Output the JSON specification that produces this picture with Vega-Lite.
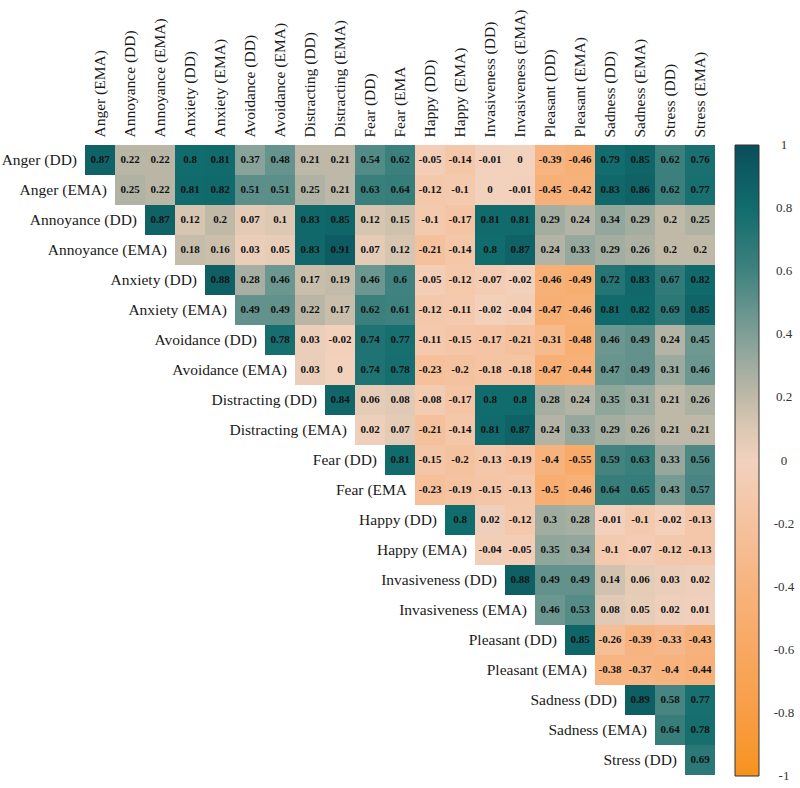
{
  "$schema": "https://vega.github.io/schema/vega-lite/v6.json",
  "width": 630,
  "height": 630,
  "padding": {"left": 1, "top": 9, "right": 0, "bottom": 0},
  "background": "white",
  "config": {"view": {"stroke": null}, "font": "Liberation Serif"},
  "data": {"values": [
    {"r":"Anger (DD)","c":"Anger (EMA)","v":0.87},{"r":"Anger (DD)","c":"Annoyance (DD)","v":0.22},{"r":"Anger (DD)","c":"Annoyance (EMA)","v":0.22},{"r":"Anger (DD)","c":"Anxiety (DD)","v":0.8},{"r":"Anger (DD)","c":"Anxiety (EMA)","v":0.81},{"r":"Anger (DD)","c":"Avoidance (DD)","v":0.37},{"r":"Anger (DD)","c":"Avoidance (EMA)","v":0.48},{"r":"Anger (DD)","c":"Distracting (DD)","v":0.21},{"r":"Anger (DD)","c":"Distracting (EMA)","v":0.21},{"r":"Anger (DD)","c":"Fear (DD)","v":0.54},{"r":"Anger (DD)","c":"Fear (EMA","v":0.62},{"r":"Anger (DD)","c":"Happy (DD)","v":-0.05},{"r":"Anger (DD)","c":"Happy (EMA)","v":-0.14},{"r":"Anger (DD)","c":"Invasiveness (DD)","v":-0.01},{"r":"Anger (DD)","c":"Invasiveness (EMA)","v":0},{"r":"Anger (DD)","c":"Pleasant (DD)","v":-0.39},{"r":"Anger (DD)","c":"Pleasant (EMA)","v":-0.46},{"r":"Anger (DD)","c":"Sadness (DD)","v":0.79},{"r":"Anger (DD)","c":"Sadness (EMA)","v":0.85},{"r":"Anger (DD)","c":"Stress (DD)","v":0.62},{"r":"Anger (DD)","c":"Stress (EMA)","v":0.76},
    {"r":"Anger (EMA)","c":"Annoyance (DD)","v":0.25},{"r":"Anger (EMA)","c":"Annoyance (EMA)","v":0.22},{"r":"Anger (EMA)","c":"Anxiety (DD)","v":0.81},{"r":"Anger (EMA)","c":"Anxiety (EMA)","v":0.82},{"r":"Anger (EMA)","c":"Avoidance (DD)","v":0.51},{"r":"Anger (EMA)","c":"Avoidance (EMA)","v":0.51},{"r":"Anger (EMA)","c":"Distracting (DD)","v":0.25},{"r":"Anger (EMA)","c":"Distracting (EMA)","v":0.21},{"r":"Anger (EMA)","c":"Fear (DD)","v":0.63},{"r":"Anger (EMA)","c":"Fear (EMA","v":0.64},{"r":"Anger (EMA)","c":"Happy (DD)","v":-0.12},{"r":"Anger (EMA)","c":"Happy (EMA)","v":-0.1},{"r":"Anger (EMA)","c":"Invasiveness (DD)","v":0},{"r":"Anger (EMA)","c":"Invasiveness (EMA)","v":-0.01},{"r":"Anger (EMA)","c":"Pleasant (DD)","v":-0.45},{"r":"Anger (EMA)","c":"Pleasant (EMA)","v":-0.42},{"r":"Anger (EMA)","c":"Sadness (DD)","v":0.83},{"r":"Anger (EMA)","c":"Sadness (EMA)","v":0.86},{"r":"Anger (EMA)","c":"Stress (DD)","v":0.62},{"r":"Anger (EMA)","c":"Stress (EMA)","v":0.77},
    {"r":"Annoyance (DD)","c":"Annoyance (EMA)","v":0.87},{"r":"Annoyance (DD)","c":"Anxiety (DD)","v":0.12},{"r":"Annoyance (DD)","c":"Anxiety (EMA)","v":0.2},{"r":"Annoyance (DD)","c":"Avoidance (DD)","v":0.07},{"r":"Annoyance (DD)","c":"Avoidance (EMA)","v":0.1},{"r":"Annoyance (DD)","c":"Distracting (DD)","v":0.83},{"r":"Annoyance (DD)","c":"Distracting (EMA)","v":0.85},{"r":"Annoyance (DD)","c":"Fear (DD)","v":0.12},{"r":"Annoyance (DD)","c":"Fear (EMA","v":0.15},{"r":"Annoyance (DD)","c":"Happy (DD)","v":-0.1},{"r":"Annoyance (DD)","c":"Happy (EMA)","v":-0.17},{"r":"Annoyance (DD)","c":"Invasiveness (DD)","v":0.81},{"r":"Annoyance (DD)","c":"Invasiveness (EMA)","v":0.81},{"r":"Annoyance (DD)","c":"Pleasant (DD)","v":0.29},{"r":"Annoyance (DD)","c":"Pleasant (EMA)","v":0.24},{"r":"Annoyance (DD)","c":"Sadness (DD)","v":0.34},{"r":"Annoyance (DD)","c":"Sadness (EMA)","v":0.29},{"r":"Annoyance (DD)","c":"Stress (DD)","v":0.2},{"r":"Annoyance (DD)","c":"Stress (EMA)","v":0.25},
    {"r":"Annoyance (EMA)","c":"Anxiety (DD)","v":0.18},{"r":"Annoyance (EMA)","c":"Anxiety (EMA)","v":0.16},{"r":"Annoyance (EMA)","c":"Avoidance (DD)","v":0.03},{"r":"Annoyance (EMA)","c":"Avoidance (EMA)","v":0.05},{"r":"Annoyance (EMA)","c":"Distracting (DD)","v":0.83},{"r":"Annoyance (EMA)","c":"Distracting (EMA)","v":0.91},{"r":"Annoyance (EMA)","c":"Fear (DD)","v":0.07},{"r":"Annoyance (EMA)","c":"Fear (EMA","v":0.12},{"r":"Annoyance (EMA)","c":"Happy (DD)","v":-0.21},{"r":"Annoyance (EMA)","c":"Happy (EMA)","v":-0.14},{"r":"Annoyance (EMA)","c":"Invasiveness (DD)","v":0.8},{"r":"Annoyance (EMA)","c":"Invasiveness (EMA)","v":0.87},{"r":"Annoyance (EMA)","c":"Pleasant (DD)","v":0.24},{"r":"Annoyance (EMA)","c":"Pleasant (EMA)","v":0.33},{"r":"Annoyance (EMA)","c":"Sadness (DD)","v":0.29},{"r":"Annoyance (EMA)","c":"Sadness (EMA)","v":0.26},{"r":"Annoyance (EMA)","c":"Stress (DD)","v":0.2},{"r":"Annoyance (EMA)","c":"Stress (EMA)","v":0.2},
    {"r":"Anxiety (DD)","c":"Anxiety (EMA)","v":0.88},{"r":"Anxiety (DD)","c":"Avoidance (DD)","v":0.28},{"r":"Anxiety (DD)","c":"Avoidance (EMA)","v":0.46},{"r":"Anxiety (DD)","c":"Distracting (DD)","v":0.17},{"r":"Anxiety (DD)","c":"Distracting (EMA)","v":0.19},{"r":"Anxiety (DD)","c":"Fear (DD)","v":0.46},{"r":"Anxiety (DD)","c":"Fear (EMA","v":0.6},{"r":"Anxiety (DD)","c":"Happy (DD)","v":-0.05},{"r":"Anxiety (DD)","c":"Happy (EMA)","v":-0.12},{"r":"Anxiety (DD)","c":"Invasiveness (DD)","v":-0.07},{"r":"Anxiety (DD)","c":"Invasiveness (EMA)","v":-0.02},{"r":"Anxiety (DD)","c":"Pleasant (DD)","v":-0.46},{"r":"Anxiety (DD)","c":"Pleasant (EMA)","v":-0.49},{"r":"Anxiety (DD)","c":"Sadness (DD)","v":0.72},{"r":"Anxiety (DD)","c":"Sadness (EMA)","v":0.83},{"r":"Anxiety (DD)","c":"Stress (DD)","v":0.67},{"r":"Anxiety (DD)","c":"Stress (EMA)","v":0.82},
    {"r":"Anxiety (EMA)","c":"Avoidance (DD)","v":0.49},{"r":"Anxiety (EMA)","c":"Avoidance (EMA)","v":0.49},{"r":"Anxiety (EMA)","c":"Distracting (DD)","v":0.22},{"r":"Anxiety (EMA)","c":"Distracting (EMA)","v":0.17},{"r":"Anxiety (EMA)","c":"Fear (DD)","v":0.62},{"r":"Anxiety (EMA)","c":"Fear (EMA","v":0.61},{"r":"Anxiety (EMA)","c":"Happy (DD)","v":-0.12},{"r":"Anxiety (EMA)","c":"Happy (EMA)","v":-0.11},{"r":"Anxiety (EMA)","c":"Invasiveness (DD)","v":-0.02},{"r":"Anxiety (EMA)","c":"Invasiveness (EMA)","v":-0.04},{"r":"Anxiety (EMA)","c":"Pleasant (DD)","v":-0.47},{"r":"Anxiety (EMA)","c":"Pleasant (EMA)","v":-0.46},{"r":"Anxiety (EMA)","c":"Sadness (DD)","v":0.81},{"r":"Anxiety (EMA)","c":"Sadness (EMA)","v":0.82},{"r":"Anxiety (EMA)","c":"Stress (DD)","v":0.69},{"r":"Anxiety (EMA)","c":"Stress (EMA)","v":0.85},
    {"r":"Avoidance (DD)","c":"Avoidance (EMA)","v":0.78},{"r":"Avoidance (DD)","c":"Distracting (DD)","v":0.03},{"r":"Avoidance (DD)","c":"Distracting (EMA)","v":-0.02},{"r":"Avoidance (DD)","c":"Fear (DD)","v":0.74},{"r":"Avoidance (DD)","c":"Fear (EMA","v":0.77},{"r":"Avoidance (DD)","c":"Happy (DD)","v":-0.11},{"r":"Avoidance (DD)","c":"Happy (EMA)","v":-0.15},{"r":"Avoidance (DD)","c":"Invasiveness (DD)","v":-0.17},{"r":"Avoidance (DD)","c":"Invasiveness (EMA)","v":-0.21},{"r":"Avoidance (DD)","c":"Pleasant (DD)","v":-0.31},{"r":"Avoidance (DD)","c":"Pleasant (EMA)","v":-0.48},{"r":"Avoidance (DD)","c":"Sadness (DD)","v":0.46},{"r":"Avoidance (DD)","c":"Sadness (EMA)","v":0.49},{"r":"Avoidance (DD)","c":"Stress (DD)","v":0.24},{"r":"Avoidance (DD)","c":"Stress (EMA)","v":0.45},
    {"r":"Avoidance (EMA)","c":"Distracting (DD)","v":0.03},{"r":"Avoidance (EMA)","c":"Distracting (EMA)","v":0},{"r":"Avoidance (EMA)","c":"Fear (DD)","v":0.74},{"r":"Avoidance (EMA)","c":"Fear (EMA","v":0.78},{"r":"Avoidance (EMA)","c":"Happy (DD)","v":-0.23},{"r":"Avoidance (EMA)","c":"Happy (EMA)","v":-0.2},{"r":"Avoidance (EMA)","c":"Invasiveness (DD)","v":-0.18},{"r":"Avoidance (EMA)","c":"Invasiveness (EMA)","v":-0.18},{"r":"Avoidance (EMA)","c":"Pleasant (DD)","v":-0.47},{"r":"Avoidance (EMA)","c":"Pleasant (EMA)","v":-0.44},{"r":"Avoidance (EMA)","c":"Sadness (DD)","v":0.47},{"r":"Avoidance (EMA)","c":"Sadness (EMA)","v":0.49},{"r":"Avoidance (EMA)","c":"Stress (DD)","v":0.31},{"r":"Avoidance (EMA)","c":"Stress (EMA)","v":0.46},
    {"r":"Distracting (DD)","c":"Distracting (EMA)","v":0.84},{"r":"Distracting (DD)","c":"Fear (DD)","v":0.06},{"r":"Distracting (DD)","c":"Fear (EMA","v":0.08},{"r":"Distracting (DD)","c":"Happy (DD)","v":-0.08},{"r":"Distracting (DD)","c":"Happy (EMA)","v":-0.17},{"r":"Distracting (DD)","c":"Invasiveness (DD)","v":0.8},{"r":"Distracting (DD)","c":"Invasiveness (EMA)","v":0.8},{"r":"Distracting (DD)","c":"Pleasant (DD)","v":0.28},{"r":"Distracting (DD)","c":"Pleasant (EMA)","v":0.24},{"r":"Distracting (DD)","c":"Sadness (DD)","v":0.35},{"r":"Distracting (DD)","c":"Sadness (EMA)","v":0.31},{"r":"Distracting (DD)","c":"Stress (DD)","v":0.21},{"r":"Distracting (DD)","c":"Stress (EMA)","v":0.26},
    {"r":"Distracting (EMA)","c":"Fear (DD)","v":0.02},{"r":"Distracting (EMA)","c":"Fear (EMA","v":0.07},{"r":"Distracting (EMA)","c":"Happy (DD)","v":-0.21},{"r":"Distracting (EMA)","c":"Happy (EMA)","v":-0.14},{"r":"Distracting (EMA)","c":"Invasiveness (DD)","v":0.81},{"r":"Distracting (EMA)","c":"Invasiveness (EMA)","v":0.87},{"r":"Distracting (EMA)","c":"Pleasant (DD)","v":0.24},{"r":"Distracting (EMA)","c":"Pleasant (EMA)","v":0.33},{"r":"Distracting (EMA)","c":"Sadness (DD)","v":0.29},{"r":"Distracting (EMA)","c":"Sadness (EMA)","v":0.26},{"r":"Distracting (EMA)","c":"Stress (DD)","v":0.21},{"r":"Distracting (EMA)","c":"Stress (EMA)","v":0.21},
    {"r":"Fear (DD)","c":"Fear (EMA","v":0.81},{"r":"Fear (DD)","c":"Happy (DD)","v":-0.15},{"r":"Fear (DD)","c":"Happy (EMA)","v":-0.2},{"r":"Fear (DD)","c":"Invasiveness (DD)","v":-0.13},{"r":"Fear (DD)","c":"Invasiveness (EMA)","v":-0.19},{"r":"Fear (DD)","c":"Pleasant (DD)","v":-0.4},{"r":"Fear (DD)","c":"Pleasant (EMA)","v":-0.55},{"r":"Fear (DD)","c":"Sadness (DD)","v":0.59},{"r":"Fear (DD)","c":"Sadness (EMA)","v":0.63},{"r":"Fear (DD)","c":"Stress (DD)","v":0.33},{"r":"Fear (DD)","c":"Stress (EMA)","v":0.56},
    {"r":"Fear (EMA","c":"Happy (DD)","v":-0.23},{"r":"Fear (EMA","c":"Happy (EMA)","v":-0.19},{"r":"Fear (EMA","c":"Invasiveness (DD)","v":-0.15},{"r":"Fear (EMA","c":"Invasiveness (EMA)","v":-0.13},{"r":"Fear (EMA","c":"Pleasant (DD)","v":-0.5},{"r":"Fear (EMA","c":"Pleasant (EMA)","v":-0.46},{"r":"Fear (EMA","c":"Sadness (DD)","v":0.64},{"r":"Fear (EMA","c":"Sadness (EMA)","v":0.65},{"r":"Fear (EMA","c":"Stress (DD)","v":0.43},{"r":"Fear (EMA","c":"Stress (EMA)","v":0.57},
    {"r":"Happy (DD)","c":"Happy (EMA)","v":0.8},{"r":"Happy (DD)","c":"Invasiveness (DD)","v":0.02},{"r":"Happy (DD)","c":"Invasiveness (EMA)","v":-0.12},{"r":"Happy (DD)","c":"Pleasant (DD)","v":0.3},{"r":"Happy (DD)","c":"Pleasant (EMA)","v":0.28},{"r":"Happy (DD)","c":"Sadness (DD)","v":-0.01},{"r":"Happy (DD)","c":"Sadness (EMA)","v":-0.1},{"r":"Happy (DD)","c":"Stress (DD)","v":-0.02},{"r":"Happy (DD)","c":"Stress (EMA)","v":-0.13},
    {"r":"Happy (EMA)","c":"Invasiveness (DD)","v":-0.04},{"r":"Happy (EMA)","c":"Invasiveness (EMA)","v":-0.05},{"r":"Happy (EMA)","c":"Pleasant (DD)","v":0.35},{"r":"Happy (EMA)","c":"Pleasant (EMA)","v":0.34},{"r":"Happy (EMA)","c":"Sadness (DD)","v":-0.1},{"r":"Happy (EMA)","c":"Sadness (EMA)","v":-0.07},{"r":"Happy (EMA)","c":"Stress (DD)","v":-0.12},{"r":"Happy (EMA)","c":"Stress (EMA)","v":-0.13},
    {"r":"Invasiveness (DD)","c":"Invasiveness (EMA)","v":0.88},{"r":"Invasiveness (DD)","c":"Pleasant (DD)","v":0.49},{"r":"Invasiveness (DD)","c":"Pleasant (EMA)","v":0.49},{"r":"Invasiveness (DD)","c":"Sadness (DD)","v":0.14},{"r":"Invasiveness (DD)","c":"Sadness (EMA)","v":0.06},{"r":"Invasiveness (DD)","c":"Stress (DD)","v":0.03},{"r":"Invasiveness (DD)","c":"Stress (EMA)","v":0.02},
    {"r":"Invasiveness (EMA)","c":"Pleasant (DD)","v":0.46},{"r":"Invasiveness (EMA)","c":"Pleasant (EMA)","v":0.53},{"r":"Invasiveness (EMA)","c":"Sadness (DD)","v":0.08},{"r":"Invasiveness (EMA)","c":"Sadness (EMA)","v":0.05},{"r":"Invasiveness (EMA)","c":"Stress (DD)","v":0.02},{"r":"Invasiveness (EMA)","c":"Stress (EMA)","v":0.01},
    {"r":"Pleasant (DD)","c":"Pleasant (EMA)","v":0.85},{"r":"Pleasant (DD)","c":"Sadness (DD)","v":-0.26},{"r":"Pleasant (DD)","c":"Sadness (EMA)","v":-0.39},{"r":"Pleasant (DD)","c":"Stress (DD)","v":-0.33},{"r":"Pleasant (DD)","c":"Stress (EMA)","v":-0.43},
    {"r":"Pleasant (EMA)","c":"Sadness (DD)","v":-0.38},{"r":"Pleasant (EMA)","c":"Sadness (EMA)","v":-0.37},{"r":"Pleasant (EMA)","c":"Stress (DD)","v":-0.4},{"r":"Pleasant (EMA)","c":"Stress (EMA)","v":-0.44},
    {"r":"Sadness (DD)","c":"Sadness (EMA)","v":0.89},{"r":"Sadness (DD)","c":"Stress (DD)","v":0.58},{"r":"Sadness (DD)","c":"Stress (EMA)","v":0.77},
    {"r":"Sadness (EMA)","c":"Stress (DD)","v":0.64},{"r":"Sadness (EMA)","c":"Stress (EMA)","v":0.78},
    {"r":"Stress (DD)","c":"Stress (EMA)","v":0.69}
  ]},
  "encoding": {
    "x": {"field": "c", "type": "nominal",
      "sort": ["Anger (EMA)","Annoyance (DD)","Annoyance (EMA)","Anxiety (DD)","Anxiety (EMA)","Avoidance (DD)","Avoidance (EMA)","Distracting (DD)","Distracting (EMA)","Fear (DD)","Fear (EMA","Happy (DD)","Happy (EMA)","Invasiveness (DD)","Invasiveness (EMA)","Pleasant (DD)","Pleasant (EMA)","Sadness (DD)","Sadness (EMA)","Stress (DD)","Stress (EMA)"],
      "scale": {"paddingInner": 0, "paddingOuter": 0},
      "axis": {"orient": "top", "title": null, "labelAngle": -90, "domain": false, "ticks": false, "labelPadding": 8, "labelFontSize": 15.5, "labelFont": "Liberation Serif", "labelColor": "#1a1a1a"}},
    "y": {"field": "r", "type": "nominal",
      "sort": ["Anger (DD)","Anger (EMA)","Annoyance (DD)","Annoyance (EMA)","Anxiety (DD)","Anxiety (EMA)","Avoidance (DD)","Avoidance (EMA)","Distracting (DD)","Distracting (EMA)","Fear (DD)","Fear (EMA","Happy (DD)","Happy (EMA)","Invasiveness (DD)","Invasiveness (EMA)","Pleasant (DD)","Pleasant (EMA)","Sadness (DD)","Sadness (EMA)","Stress (DD)"],
      "scale": {"paddingInner": 0, "paddingOuter": 0},
      "axis": null}
  },
  "layer": [
    {"mark": {"type": "rect"},
     "encoding": {
       "color": {"field": "v", "type": "quantitative",
         "scale": {"domain": [-1, -0.8, -0.6, -0.4, -0.2, 0, 0.1, 0.2, 0.4, 0.6, 0.8, 1],
                   "range": ["#f7921e", "#f89d45", "#f8a862", "#f7b37e", "#f5c29f", "#f2d1bd", "#dcc8b3", "#c0b9a8", "#7f9f97", "#40827f", "#116c6d", "#0a4e5a"],
                   "interpolate": "rgb"},
         "legend": {"title": null, "gradientLength": 631, "gradientThickness": 24, "offset": 20,
                    "values": [-1, -0.8, -0.6, -0.4, -0.2, 0, 0.2, 0.4, 0.6, 0.8, 1],
                    "labelExpr": "'' + datum.value",
                    "labelFontSize": 13, "labelFont": "Liberation Serif", "labelColor": "#333333",
                    "labelOffset": 25, "labelOverlap": false,
                    "gradientStrokeColor": "#333333", "gradientStrokeWidth": 1,
                    "encode": {"labels": {"update": {"align": {"value": "center"}, "baseline": {"value": "middle"}}}}}}
     }},
    {"mark": {"type": "text", "fontWeight": "bold", "fontSize": 11, "font": "Liberation Serif", "color": "#111111"},
     "encoding": {"text": {"field": "v", "type": "nominal"}}},
    {"transform": [
       {"window": [{"op": "row_number", "as": "k"}], "groupby": ["r"]},
       {"filter": "datum.k == 1"}
     ],
     "mark": {"type": "text", "align": "right", "dx": -23, "fontSize": 15.5, "font": "Liberation Serif", "color": "#1a1a1a"},
     "encoding": {"text": {"field": "r", "type": "nominal"}}}
  ]
}
